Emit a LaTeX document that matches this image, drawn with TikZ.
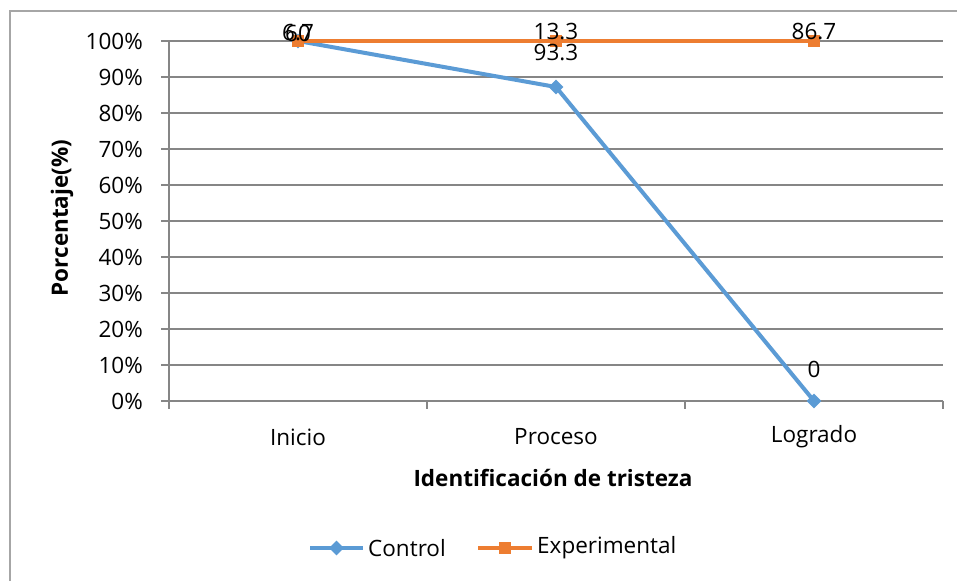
\documentclass[tikz,border=0pt]{standalone}
\usepackage{fontspec}
\setmainfont[Ligatures=NoCommon]{Open Sans}
\usetikzlibrary{shapes.geometric}
\definecolor{cblue}{HTML}{5B9BD5}
\definecolor{corange}{HTML}{ED7D31}
\definecolor{gridgray}{HTML}{868686}
\definecolor{framegray}{HTML}{A6A6A6}
\begin{document}
\begin{tikzpicture}[x=1pt,y=-1pt,
  gridline/.style={draw=gridgray,line width=1.5pt},
  frameline/.style={draw=framegray,line width=1.5pt},
  txt/.style={font=\fontsize{22.5}{27}\selectfont,inner sep=0pt},
  ttl/.style={font=\fontsize{22.5}{27}\selectfont\bfseries,inner sep=0pt},
  cline/.style={draw=cblue,line width=4pt,line join=round},
  eline/.style={draw=corange,line width=4pt,line join=round},
  cmark/.style={diamond,fill=cblue,inner sep=0pt,minimum size=15pt},
  emark/.style={rectangle,fill=corange,inner sep=0pt,minimum size=12pt}]
\useasboundingbox (0,0) rectangle (957,581);
\fill[white] (0,0) rectangle (957,581);
% chart frame
\draw[frameline] (10,581) -- (10,11) -- (957,11);
% gridlines and y labels
\foreach \k in {0,...,10}{
  \pgfmathsetmacro{\yy}{401-36*\k}
  \draw[gridline] (161,\yy) -- (943,\yy);
  \node[txt,anchor=east] (yl\k) at (143,\yy) {\the\numexpr\k*10\relax\%};
}
% axes
\draw[gridline] (169,41) -- (169,409);
\foreach \xx in {427,685,943}{\draw[gridline] (\xx,401) -- (\xx,409);}
% category labels
\node[txt] (cat1) at (298,437) {Inicio};
\node[txt] (cat2) at (556,437) {Proceso};
\node[txt] (cat3) at (814,437) {Logrado};
\node[ttl] (xtitle) at (553,478) {Identificación de tristeza};
\node[ttl,rotate=90] (ytitle) at (62,218) {Porcentaje(\%)};
% series
\coordinate (c1) at (298,41);
\coordinate (c2) at (556,87);
\coordinate (c3) at (814,401);
\coordinate (e1) at (298,41);
\coordinate (e2) at (556,41);
\coordinate (e3) at (814,41);
\draw[cline] (c1) -- (c2) -- (c3);
\node[cmark] (cm1) at (c1) {};
\node[cmark] (cm2) at (c2) {};
\node[cmark] (cm3) at (c3) {};
\draw[eline] (e1) -- (e2) -- (e3);
\node[emark] (em1) at (e1) {};
\node[emark] (em2) at (e2) {};
\node[emark] (em3) at (e3) {};
% data labels
\node[txt] (l1a) at (298,33) {6.7};
\node[txt] (l1b) at (298,33) {60};
\node[txt] (l2) at (556,32) {13.3};
\node[txt] (l3) at (556,53) {93.3};
\node[txt] (l4) at (814,32) {86.7};
\node[txt] (l5) at (814,369) {0};
% legend
\coordinate (lc1) at (310,548);
\coordinate (lc2) at (363,548);
\draw[cline] (lc1) -- (lc2);
\node[cmark] (lcm) at (336.5,548) {};
\node[txt,anchor=west] (lct) at (368,548) {Control};
\coordinate (le1) at (478,548);
\coordinate (le2) at (532,548);
\draw[eline] (le1) -- (le2);
\node[emark] (lem) at (505,548) {};
\node[txt,anchor=west] (let) at (537,548) {Experimental};
\end{tikzpicture}
\end{document}
